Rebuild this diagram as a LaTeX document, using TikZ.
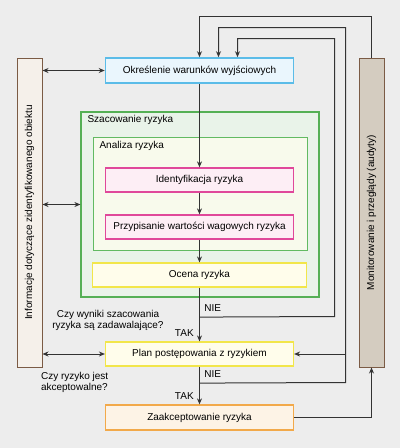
\documentclass[tikz,border=0pt]{standalone}
\usepackage{fontspec}
\setmainfont{Liberation Sans}
\usepackage{tikz}
\usetikzlibrary{calc,arrows.meta}
\usepackage{xcolor}
\definecolor{tlo}{HTML}{EDEDED}
\definecolor{linia}{HTML}{333333}
\definecolor{brazowy}{HTML}{7B5B45}
\definecolor{zielB}{HTML}{55B055}
\definecolor{zielF}{HTML}{E9F3E9}
\definecolor{analB}{HTML}{62BA62}
\definecolor{analF}{HTML}{F8FAEC}
\definecolor{nieB}{HTML}{5BBCE8}
\definecolor{nieF}{HTML}{EAF6FD}
\definecolor{rozB}{HTML}{E0489A}
\definecolor{rozF}{HTML}{FDEEF5}
\definecolor{zolB}{HTML}{F2E64A}
\definecolor{zolF}{HTML}{FFFDEB}
\definecolor{pomB}{HTML}{F2A94A}
\definecolor{pomF}{HTML}{FDF3E6}
\definecolor{infoF}{HTML}{F5F0EA}
\definecolor{monF}{HTML}{D4CCC0}
\newcommand{\txt}{\fontsize{10}{11.5}\selectfont}

\begin{document}
\begin{tikzpicture}[x=1pt,y=-1pt,font=\txt,
    blok/.style n args={3}{fill=#1,draw=#2,line width=#3,minimum height=24pt,inner sep=0pt},
    strz/.style={draw=linia,line width=1pt,-{Stealth[length=6pt,width=5pt]}},
    dwustrz/.style={draw=linia,line width=1pt,{Stealth[length=6pt,width=5pt]}-{Stealth[length=6pt,width=5pt]}}]
		\fill[tlo] (0,0) rectangle (400,448);
		\useasboundingbox (0,0) rectangle (400,448);

    % kontenery
    \node[blok={zielF}{zielB}{1.2pt},minimum width=238pt,minimum height=185pt] (szac) at (200,204.5) {};
    \node[blok={analF}{analB}{1pt},minimum width=214pt,minimum height=113pt] (anal) at (200,193.5) {};
    \node[anchor=west] (szacT) at (84,120) {Szacowanie ryzyka};
    \node[anchor=west] (analT) at (96,145.5) {Analiza ryzyka};

    % bloki
    \node[blok={nieF}{nieB}{1.6pt},minimum width=188pt,minimum height=25pt] (top) at (199.5,70.5) {Określenie warunków wyjściowych};
    \node[blok={rozF}{rozB}{1.3pt},minimum width=188pt] (ident) at (199.5,180) {Identyfikacja ryzyka};
    \node[blok={rozF}{rozB}{1.3pt},minimum width=188pt] (przyp) at (199.5,227) {Przypisanie wartości wagowych ryzyka};
    \node[blok={zolF}{zolB}{1.2pt},minimum width=214pt] (ocena) at (199.5,275) {Ocena ryzyka};
    \node[blok={zolF}{zolB}{1.2pt},minimum width=188pt] (plan) at (199.5,354) {Plan postępowania z ryzykiem};
    \node[blok={pomF}{pomB}{1.3pt},minimum width=188pt,minimum height=25pt] (zaak) at (199.5,417.5) {Zaakceptowanie ryzyka};
    \node[blok={infoF}{brazowy}{1pt},minimum width=309pt,minimum height=25pt,rotate=90] (info) at (29.5,212.5) {Informacje dotyczące zidentyfikowanego obiektu};
    \node[blok={monF}{brazowy}{1pt},minimum width=309pt,minimum height=25pt,rotate=90] (monit) at (371.5,212.5) {Monitorowanie i przeglądy (audyty)};

    % pytania
    \node[align=center] (pyt1) at (108,320.5) {Czy wyniki szacowania\\ryzyka są zadawalające?};
    \node[align=left,anchor=west] (pyt2) at (37.5,382.5) {Czy ryzyko jest\\akceptowalne?};

    % glowny ciag
    \draw[strz] (top) -- (ident);
    \draw[strz] (ident) -- (przyp);
    \draw[strz] (przyp) -- (ocena);
    \draw[strz] (ocena) -- node[pos=0.38,anchor=west,xshift=1pt] (nie1) {NIE} node[pos=0.84,anchor=east,xshift=-2pt] (tak1) {TAK} (plan);
    \draw[strz] (plan) -- node[pos=0.2,anchor=west,xshift=1pt] (nie2) {NIE} node[pos=0.79,anchor=east,xshift=-2pt] (tak2) {TAK} (zaak);

    % petle zwrotne
    \coordinate (o1) at ($(ocena.south)+(0,29.5)$);
    \coordinate (o2) at ($(plan.south)+(0,16.5)$);
    \coordinate (p2) at (345.5,382.5);
    \coordinate (p3) at (334.5,316.5);
    \draw[strz] (monit.east) -- ++(0,-41.5) -| (top.north);
    \draw[strz] (o2) -- (p2) -- ++(0,-355) -| ($(top.north)+(19,0)$);
    \draw[strz] (o1) -- (p3) -- ++(0,-278) -| ($(top.north)+(38,0)$);
    \draw[strz] (plan.east -| p2) -- (plan.east);
    \draw[strz] (zaak.east) -| (monit.west);

    % informacje
    \draw[dwustrz] (info.south |- top.west) -- (top.west);
    \draw[dwustrz] (info.south |- szac.west) -- (szac.west);
    \draw[dwustrz] (info.south |- plan.west) -- (plan.west);
    \end{tikzpicture}
\end{document}
